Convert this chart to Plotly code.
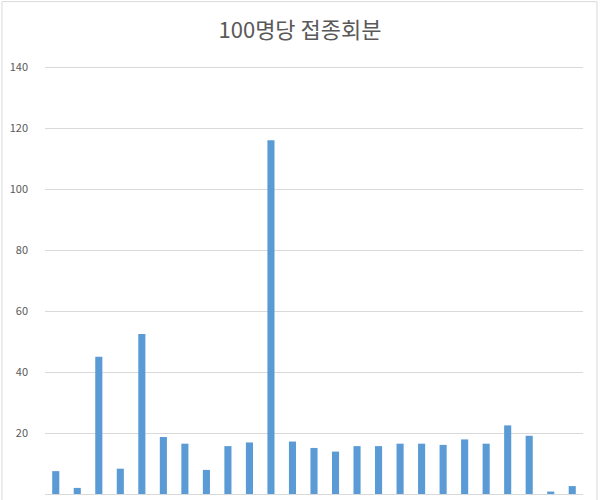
import plotly.graph_objects as go

# 25 regions; axis labels are cut off in the source image
regions = [str(i) for i in range(1, 26)]
doses_per_100 = [7.5, 2.0, 45.0, 8.3, 52.5, 18.7, 16.5, 7.9, 15.7, 16.9,
                 116.0, 17.2, 15.1, 13.9, 15.7, 15.7, 16.5, 16.5, 16.1, 17.9,
                 16.5, 22.5, 19.1, 0.8, 2.6]

fig = go.Figure()
fig.add_trace(go.Bar(x=regions, y=doses_per_100, marker_color="#5B9BD5",
                     marker_line_width=0))

fig.update_layout(
    width=600, height=500,
    margin=dict(l=45, r=17, t=64, b=6),
    paper_bgcolor="white", plot_bgcolor="white",
    font=dict(family="Noto Sans CJK KR, Noto Sans, sans-serif", color="#595959"),
    title=dict(text="100명당 접종회분", x=0.5, xanchor="center", y=0.94,
               yanchor="middle", font=dict(size=22, color="#595959")),
    bargap=0.67,
    showlegend=False,
)
# range a little above 140 so the top gridline is drawn
fig.update_yaxes(range=[0, 141], tickvals=[0, 20, 40, 60, 80, 100, 120, 140],
                 showgrid=True, gridcolor="#D9D9D9",
                 gridwidth=1, zeroline=False, showline=False,
                 tickfont=dict(size=11, color="#595959"), ticklabelstandoff=16)
fig.update_xaxes(showticklabels=False, showgrid=False, zeroline=False,
                 showline=True, linecolor="#D9D9D9")

# outer chart border
fig.add_shape(type="rect", xref="paper", yref="paper",
              x0=-0.08, x1=1.026, y0=-0.2, y1=1.145,
              line=dict(color="#D9D9D9", width=1))

# drop the default page margin so the chart sits at the window's corner
fig.write_html("out.html", config={"displayModeBar": False},
               post_script="document.body.style.margin='0';")
